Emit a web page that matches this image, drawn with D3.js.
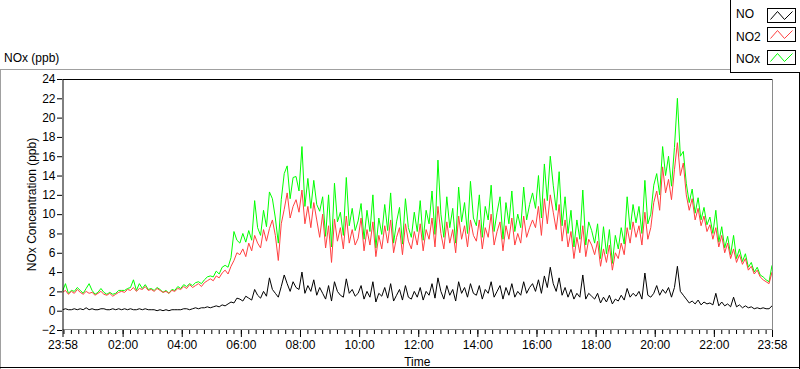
<!DOCTYPE html>
<html>
<head>
<meta charset="utf-8">
<script src="https://cdn.jsdelivr.net/npm/d3@7"></script>
<style>
  html, body { margin: 0; padding: 0; background: #fff; }
  svg { display: block; font-family: "Liberation Sans", Arial, sans-serif; }
</style>
</head>
<body>
<svg id="chart" width="800" height="369"></svg>
<script>
// ---- data (6-minute samples from 23:58 to 23:58 next day) ----
const seriesNames = ["NO", "NO2", "NOx"];
const yTickValues = [-2, 0, 2, 4, 6, 8, 10, 12, 14, 16, 18, 20, 22, 24];
const xMajorLabels = ["23:58", "02:00", "04:00", "06:00", "08:00", "10:00", "12:00", "14:00", "16:00", "18:00", "20:00", "22:00", "23:58"];
const sampleStepMinutes = 6;

const no2Values = [
  1.9,2.1,1.7,2.0,1.8,2.2,1.9,1.7,2.0,1.8,1.9,1.6,1.8,2.0,1.7,1.6,1.8,1.5,1.7,1.9,
  2.0,1.9,2.2,2.1,2.4,2.0,2.3,2.2,2.5,2.1,2.2,2.0,2.3,2.1,1.9,2.0,1.8,2.1,2.0,2.3,
  2.2,2.5,2.3,2.7,2.4,2.6,2.8,2.5,2.9,3.1,3.3,3.1,3.6,3.4,3.9,4.2,3.8,4.6,5.2,6.0,
  5.8,6.4,5.6,7.0,6.2,7.8,7.0,6.5,8.4,7.2,8.5,9.4,7.8,5.2,9.0,10.5,12.2,9.6,10.8,11.5,
  10.2,12.5,9.0,10.8,8.6,11.2,9.4,7.6,10.0,6.5,8.8,5.0,9.5,7.2,8.6,6.4,9.8,7.0,8.4,6.8,
  7.5,9.6,6.2,8.4,6.8,9.2,5.6,7.8,6.4,8.8,7.0,9.4,6.0,7.6,8.6,5.8,9.0,7.2,6.4,8.2,
  6.8,9.0,6.2,8.4,7.4,9.6,6.6,10.8,8.0,6.4,9.2,7.0,8.4,6.0,9.8,7.4,8.8,6.6,9.4,7.8,
  7.2,9.4,6.4,8.6,7.6,10.0,6.8,8.2,9.2,6.2,8.8,7.4,9.6,6.8,8.0,7.0,9.8,7.6,8.6,9.4,
  8.6,10.8,7.8,11.6,9.0,12.0,10.2,8.4,11.0,7.2,9.4,6.6,8.2,5.4,7.6,6.0,8.8,5.6,7.4,6.8,
  5.8,7.2,4.6,6.4,5.0,6.8,4.2,6.0,5.4,7.0,5.8,8.6,7.0,9.2,7.6,8.8,6.8,10.2,7.4,8.6,
  11.2,12.4,10.4,14.9,12.2,13.6,11.5,14.6,17.4,14.0,15.3,12.0,10.4,11.6,9.4,10.6,8.8,9.8,8.2,8.9,
  7.4,8.6,6.6,7.8,6.0,7.0,5.4,6.4,5.0,5.8,4.8,5.4,4.2,4.6,3.8,4.2,3.5,3.2,3.0,2.8,4.0
];
const noValues = [
  0.1,0.2,0.1,0.1,0.2,0.1,0.2,0.1,0.3,0.1,0.2,0.1,0.1,0.2,0.2,0.1,0.1,0.2,0.1,0.2,
  0.1,0.2,0.1,0.2,0.1,0.1,0.2,0.1,0.2,0.1,0.1,0.1,0.0,0.1,0.0,0.1,0.0,0.1,0.1,0.1,
  0.1,0.2,0.2,0.1,0.2,0.3,0.2,0.3,0.3,0.4,0.3,0.4,0.5,0.4,0.6,0.5,0.7,0.9,0.8,1.3,
  1.2,1.0,1.5,1.3,1.1,2.2,1.6,1.3,2.0,1.5,3.4,2.2,1.8,1.4,2.5,3.7,2.8,2.0,3.0,2.4,
  2.2,4.0,1.8,2.6,2.0,3.2,1.6,2.4,1.8,1.2,2.6,1.0,3.0,2.0,1.6,1.4,3.3,1.8,2.2,1.5,
  1.8,2.6,1.2,2.0,1.4,3.0,0.9,1.8,1.5,2.4,1.3,2.8,1.0,1.6,2.2,1.1,2.6,1.4,1.2,2.0,
  1.4,2.4,1.1,2.0,1.6,2.8,1.3,3.4,2.0,1.2,2.6,1.6,2.2,1.0,3.0,1.8,2.4,1.4,2.8,1.8,
  1.6,2.6,1.2,2.2,1.8,3.0,1.4,2.0,2.6,1.2,2.4,1.6,2.8,1.4,2.0,1.6,3.0,1.8,2.4,2.8,
  2.0,3.2,1.8,3.6,2.4,4.5,2.8,2.0,3.4,1.6,2.4,1.4,2.2,1.2,1.8,1.4,3.7,1.2,1.8,1.5,
  1.2,1.8,0.8,1.4,0.9,1.6,0.7,1.2,1.0,1.6,1.1,2.3,1.4,1.8,1.5,2.0,1.2,3.9,1.6,1.4,
  1.8,2.6,1.6,2.2,1.8,2.4,1.4,2.4,4.6,2.0,1.6,1.2,0.8,1.0,0.7,1.1,0.6,0.9,0.7,0.8,
  0.6,1.8,0.5,0.9,0.5,0.7,0.4,1.4,0.4,0.6,0.3,0.5,0.3,0.4,0.2,0.3,0.2,0.3,0.2,0.2,0.5
];
const noxValues = [
  2.0,2.8,1.8,2.1,2.0,2.4,2.1,1.8,2.3,2.8,2.1,1.7,1.9,2.3,1.9,1.7,1.9,1.7,1.8,2.1,
  2.1,2.1,2.3,2.4,3.2,2.1,2.8,2.3,2.7,2.2,2.3,2.1,2.4,2.2,1.9,2.1,1.8,2.2,2.1,2.5,
  2.3,2.7,2.5,2.8,2.6,2.9,3.0,2.8,3.2,3.5,3.6,3.5,4.1,3.8,4.5,4.7,4.5,5.5,8.2,7.3,
  7.0,8.0,7.1,8.3,7.3,11.4,8.6,7.8,10.4,8.7,12.3,11.6,9.6,7.0,11.5,14.2,15.0,11.6,13.8,13.9,
  12.4,17.0,10.8,13.7,10.6,13.5,11.0,10.3,11.8,7.7,12.0,6.6,13.2,9.2,10.2,7.8,13.8,8.8,10.6,8.3,
  9.3,11.1,7.4,10.4,8.2,12.0,6.5,9.6,7.9,11.0,8.3,12.2,7.0,9.2,10.7,6.9,11.6,8.6,7.6,10.2,
  8.2,11.4,7.3,10.4,9.0,12.4,7.9,15.6,10.0,7.6,11.8,8.6,10.6,7.0,12.8,9.2,11.2,8.0,13.4,9.6,
  8.8,12.0,7.6,10.8,9.4,13.0,8.2,10.2,11.8,7.4,11.2,9.0,12.4,8.2,10.0,8.6,12.8,9.4,11.0,12.2,
  10.6,14.0,9.6,15.2,11.4,16.0,13.0,10.4,14.4,8.8,11.8,8.0,10.4,6.6,9.4,7.4,12.5,6.8,9.2,8.3,
  7.0,9.0,5.4,8.7,5.9,8.4,4.9,7.8,6.4,8.6,6.9,11.8,8.4,11.0,9.1,10.8,8.0,13.5,9.0,10.0,
  13.0,14.2,12.0,17.0,14.0,16.0,12.9,16.9,22.0,16.0,16.5,13.2,11.2,12.6,10.1,11.7,9.4,10.7,8.9,9.7,
  8.0,10.4,7.1,8.7,6.5,7.7,5.8,7.8,5.4,6.4,5.1,5.9,4.5,5.0,4.0,4.5,3.7,3.5,3.2,3.0,4.7
];

// ---- layout ----
const svg = d3.select("#chart");
const W = 800, H = 369;
const plot = { left: 62.5, right: 772, top: 79, bottom: 330 };
const colors = { NO: "#000000", NO2: "#ff4040", NOx: "#00ff00" };
const fontSize = 12;

const t0 = new Date(2000, 0, 1, 23, 58);
const t1 = new Date(2000, 0, 2, 23, 58);
const timeAt = i => new Date(t0.getTime() + i * sampleStepMinutes * 60000);

const x = d3.scaleTime().domain([t0, t1]).range([plot.left, plot.right]);
const y = d3.scaleLinear().domain([-2, 24]).range([plot.bottom, plot.top]);

// outer panel frame
svg.append("line").attr("x1", 0).attr("x2", 730).attr("y1", 69.5).attr("y2", 69.5).attr("stroke", "#a0a0a0");
svg.append("line").attr("x1", 0.5).attr("x2", 0.5).attr("y1", 69.5).attr("y2", 369).attr("stroke", "#a0a0a0");
svg.append("line").attr("x1", 0).attr("x2", 800).attr("y1", 367.5).attr("y2", 367.5).attr("stroke", "#000");
svg.append("line").attr("x1", 799.5).attr("x2", 799.5).attr("y1", 0).attr("y2", 369).attr("stroke", "#000");

// chart title
svg.append("text").attr("x", 4).attr("y", 62).attr("font-size", fontSize).attr("fill", "#000").text("NOx (ppb)");

// clip
svg.append("clipPath").attr("id", "clip").append("rect")
  .attr("x", plot.left).attr("y", plot.top).attr("width", plot.right - plot.left).attr("height", plot.bottom - plot.top);

// series lines
const seriesData = {
  NOx: noxValues.map((v, i) => ({ t: timeAt(i), v })),
  NO2: no2Values.map((v, i) => ({ t: timeAt(i), v })),
  NO: noValues.map((v, i) => ({ t: timeAt(i), v }))
};
const line = d3.line().x(d => x(d.t)).y(d => y(d.v));
const g = svg.append("g").attr("clip-path", "url(#clip)");
["NOx", "NO2", "NO"].forEach(k => {
  g.append("path").datum(seriesData[k])
    .attr("fill", "none").attr("stroke", colors[k]).attr("stroke-width", 1)
    .attr("stroke-linejoin", "miter").attr("d", line);
});

// plot frame
svg.append("line").attr("x1", plot.left).attr("x2", plot.right).attr("y1", plot.top + 0.5).attr("y2", plot.top + 0.5).attr("stroke", "#000");
svg.append("line").attr("x1", plot.right + 0.5).attr("x2", plot.right + 0.5).attr("y1", plot.top).attr("y2", plot.bottom).attr("stroke", "#8a8a8a");
svg.append("line").attr("x1", plot.left).attr("x2", plot.right + 1).attr("y1", plot.bottom - 0.5).attr("y2", plot.bottom - 0.5).attr("stroke", "#8a8a8a");

// y axis
const yAxis = d3.axisLeft(y).tickValues(yTickValues).tickSize(5).tickPadding(2).tickFormat(d3.format("d"));
const yg = svg.append("g").attr("transform", `translate(${plot.left},0)`).call(yAxis);
yg.select(".domain").attr("stroke", "#000").attr("d", `M0.5,${plot.top}V${plot.bottom}`);
yg.selectAll(".tick line").attr("stroke", "#000").attr("x1", -0.5).attr("x2", -5.5);
yg.selectAll(".tick text").attr("font-size", fontSize).attr("font-family", "Liberation Sans, Arial, sans-serif").attr("fill", "#000");

// x axis: minor ticks every 15 min
const minorTicks = d3.timeMinute.every(15).range(new Date(2000, 0, 2, 0, 0), t1);
const xMinor = d3.axisBottom(x).tickValues(minorTicks).tickSize(4).tickFormat("");
const xmg = svg.append("g").attr("transform", `translate(0,${plot.bottom})`).call(xMinor);
xmg.select(".domain").remove();
xmg.selectAll(".tick line").attr("stroke", "#000");

// major ticks with labels
const parseHM = d3.timeParse("%H:%M");
const majorTicks = xMajorLabels.map((s, i) => {
  if (i === 0) return t0;
  if (i === xMajorLabels.length - 1) return t1;
  const p = parseHM(s);
  return new Date(2000, 0, 2, p.getHours(), p.getMinutes());
});
const xMajor = d3.axisBottom(x).tickValues(majorTicks).tickSize(7).tickPadding(3.5).tickFormat(d3.timeFormat("%H:%M"));
const xg = svg.append("g").attr("transform", `translate(0,${plot.bottom})`).call(xMajor);
xg.select(".domain").remove();
xg.selectAll(".tick line").attr("stroke", "#000");
xg.selectAll(".tick text").attr("font-size", fontSize).attr("font-family", "Liberation Sans, Arial, sans-serif").attr("fill", "#000");

// axis titles
svg.append("text").attr("x", (plot.left + plot.right) / 2).attr("y", 365.5)
  .attr("text-anchor", "middle").attr("font-size", fontSize).attr("fill", "#000").text("Time");
svg.append("text").attr("transform", `translate(36,${(plot.top + plot.bottom) / 2}) rotate(-90)`)
  .attr("text-anchor", "middle").attr("font-size", fontSize).attr("fill", "#000").text("NOx Concentration (ppb)");

// legend
const lg = svg.append("g");
lg.append("rect").attr("x", 730.5).attr("y", -1).attr("width", 80).attr("height", 73.5).attr("fill", "#fff").attr("stroke", "#000");
const legendRows = [
  { key: "NO", base: 18, boxY: 8.5 },
  { key: "NO2", base: 40.5, boxY: 27.5 },
  { key: "NOx", base: 63, boxY: 50.5 }
];
legendRows.forEach(r => {
  lg.append("text").attr("x", 736).attr("y", r.base).attr("font-size", fontSize).attr("fill", "#000").text(r.key);
  lg.append("rect").attr("x", 767.5).attr("y", r.boxY).attr("width", 28).attr("height", 14)
    .attr("fill", "#fff").attr("stroke", "#000");
  const bx = 767.5, by = r.boxY;
  lg.append("path").attr("d", `M${bx + 3},${by + 11}L${bx + 10},${by + 3}L${bx + 17},${by + 11}L${bx + 25},${by + 3}`)
    .attr("fill", "none").attr("stroke", colors[r.key]).attr("stroke-width", 1);
});
</script>
</body>
</html>
